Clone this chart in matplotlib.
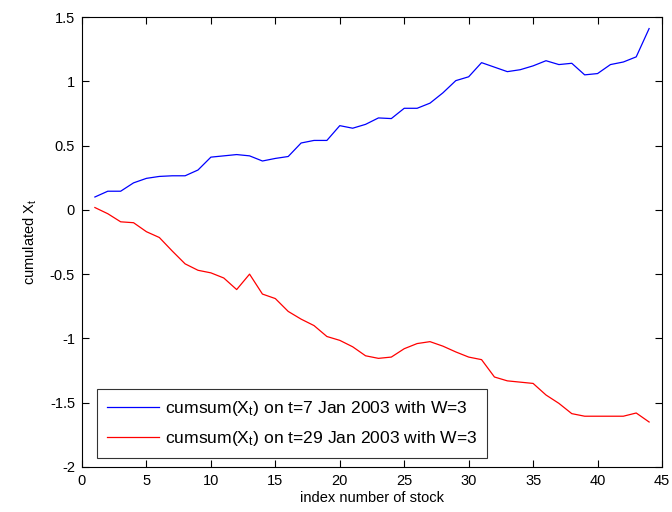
import numpy as np
import matplotlib
matplotlib.use("Agg")
import matplotlib.pyplot as plt

plt.rcParams['font.family'] = ['Liberation Sans', 'DejaVu Sans']
plt.rcParams['mathtext.default'] = 'regular'

# stock index along x
stock_idx = np.arange(1, 45)

# cumulated X_t, t = 7 Jan 2003
cum_jan7 = [0.10, 0.145, 0.145, 0.21, 0.245, 0.26, 0.265, 0.265, 0.31, 0.41,
            0.42, 0.43, 0.42, 0.38, 0.40, 0.415, 0.52, 0.54, 0.54, 0.655,
            0.635, 0.665, 0.715, 0.71, 0.79, 0.79, 0.83, 0.91, 1.005, 1.035,
            1.145, 1.11, 1.075, 1.09, 1.12, 1.16, 1.13, 1.14, 1.05, 1.06,
            1.13, 1.15, 1.19, 1.41]

# cumulated X_t, t = 29 Jan 2003
cum_jan29 = [0.018, -0.03, -0.093, -0.10, -0.17, -0.215, -0.32, -0.42, -0.47, -0.49,
             -0.53, -0.62, -0.50, -0.655, -0.69, -0.79, -0.85, -0.90, -0.985, -1.015,
             -1.065, -1.135, -1.155, -1.145, -1.08, -1.04, -1.025, -1.06, -1.105, -1.145,
             -1.165, -1.30, -1.33, -1.34, -1.35, -1.44, -1.505, -1.585, -1.605, -1.605,
             -1.605, -1.605, -1.58, -1.65]

labels = [r'cumsum(X$_t$) on t=7 Jan 2003 with W=3',
          r'cumsum(X$_t$) on t=29 Jan 2003 with W=3']

fig = plt.figure(figsize=(6.72, 5.12), dpi=100)
ax = fig.add_axes([82 / 672, 1 - 467 / 512, 580 / 672, 450 / 512])

ax.plot(stock_idx, cum_jan7, color=(0, 0, 1), lw=0.9, label=labels[0])
ax.plot(stock_idx, cum_jan29, color=(1, 0, 0), lw=0.9, label=labels[1])

ax.set_xlim(0, 45)
ax.set_ylim(-2, 1.5)
ax.set_xticks(np.arange(0, 46, 5))
ax.set_yticks(np.arange(-2, 1.51, 0.5))
ax.set_yticklabels(['-2', '-1.5', '-1', '-0.5', '0', '0.5', '1', '1.5'])
ax.tick_params(direction='in', top=True, right=True, length=5, width=0.8,
               labelsize=10.5, pad=5)
for s in ax.spines.values():
    s.set_linewidth(0.8)

ax.set_xlabel('index number of stock', fontsize=10.5, labelpad=2)
ax.set_ylabel(r'cumulated X$_t$', fontsize=10.5, labelpad=8)

leg = ax.legend(loc='lower left', bbox_to_anchor=(0.026, 0.02), borderaxespad=0,
                fancybox=False, edgecolor='black', fontsize=12.6,
                handlelength=3.0, handletextpad=0.35, borderpad=0.55,
                labelspacing=0.65)
leg.get_frame().set_linewidth(0.8)

fig.savefig('out.png', dpi=100)
